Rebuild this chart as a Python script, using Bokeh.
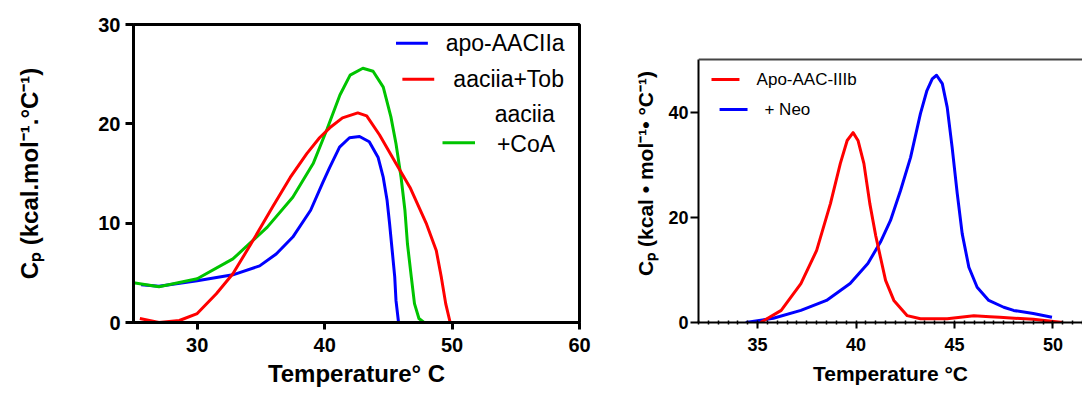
from bokeh.plotting import figure
from bokeh.models import Range1d, FixedTicker, Span, Label
from bokeh.layouts import row
from bokeh.embed import file_html
from bokeh.resources import INLINE

# ---------------- Left panel data (AAC-IIa) ----------------
apo_x = [25.6, 27.0, 30.0, 32.8, 34.9, 36.2, 37.5, 38.9, 39.86, 40.39, 41.17, 41.95, 42.74,
         43.5, 44.2, 44.6, 44.9, 45.1, 45.3, 45.5, 45.6, 45.8]
apo_y = [3.8, 3.65, 4.2, 4.8, 5.7, 6.9, 8.6, 11.3, 14.1, 15.6, 17.65, 18.6, 18.73,
         18.2, 16.6, 14.6, 12.3, 9.9, 7.25, 4.6, 2.2, 0.0]

tob_x = [25.5, 27.0, 28.6, 30.0, 31.5, 32.8, 34.4, 35.9, 37.3, 38.6, 39.6, 40.4, 41.4,
         42.6, 43.3, 44.3, 45.6, 46.7, 48.0, 48.76, 49.15, 49.5, 49.85]
tob_y = [0.4, 0.0, 0.2, 0.9, 2.9, 4.9, 8.3, 11.6, 14.6, 17.0, 18.6, 19.6, 20.6,
         21.1, 20.8, 18.9, 16.0, 13.6, 9.9, 7.25, 4.6, 1.9, 0.0]

coa_x = [25.0, 27.0, 30.0, 32.8, 35.5, 37.5, 39.1, 40.2, 41.2, 42.0, 43.0, 43.8, 44.6,
         45.2, 45.6, 46.0, 46.3, 46.5, 46.8, 47.05, 47.4, 47.8]
coa_y = [4.0, 3.6, 4.4, 6.4, 9.6, 12.6, 16.0, 19.5, 22.9, 24.9, 25.6, 25.3, 23.7,
         20.7, 18.0, 14.6, 11.3, 7.9, 4.6, 1.9, 0.4, 0.0]

left_xticks = [30, 40, 50, 60]
left_yticks = [0, 10, 20, 30]

# ---------------- Right panel data (AAC-IIIb) ----------------
apo3_x = [35.15, 36.2, 37.2, 38.0, 38.7, 39.2, 39.55, 39.85, 40.1, 40.4, 40.7, 41.0, 41.24,
          41.5, 41.92, 42.6, 43.27, 44.63, 45.98, 46.8, 47.3, 49.0, 50.5]
apo3_y = [0.0, 2.3, 7.4, 13.7, 22.6, 30.2, 34.6, 36.1, 34.6, 30.2, 22.6, 16.5, 12.4,
          8.0, 4.2, 1.3, 0.7, 0.7, 1.3, 1.1, 1.0, 0.6, 0.0]

neo_x = [34.4, 35.8, 37.2, 38.5, 39.7, 40.6, 41.24, 41.75, 42.26, 42.77, 43.27, 43.6, 43.87,
         44.09, 44.38, 44.63, 44.88, 45.14, 45.39, 45.73, 46.15, 46.74, 47.5, 48.0, 49.0, 49.95]
neo_y = [0.0, 0.8, 2.3, 4.2, 7.4, 11.2, 15.3, 19.4, 25.1, 31.4, 39.7, 44.1, 46.3,
         47.0, 45.4, 40.9, 33.3, 24.5, 16.9, 10.5, 6.7, 4.2, 2.9, 2.3, 1.7, 1.0]

right_xticks = [35, 40, 45, 50]
right_yticks = [0, 20, 40]
right_ytop = 50

FONT = "Liberation Sans"
BLUE = "#0000FF"
RED = "#FF0000"
GREEN = "#00C400"

# ================= Left figure =================
p1 = figure(width=600, height=394, output_backend="svg", toolbar_location=None,
            x_range=Range1d(25, 60), y_range=Range1d(0, 30),
            min_border_left=133, min_border_right=21, min_border_top=24, min_border_bottom=72)
p1.grid.visible = False
p1.outline_line_color = "black"
p1.outline_line_width = 3
p1.background_fill_color = "white"
p1.border_fill_color = "white"

p1.line(apo_x, apo_y, line_color=BLUE, line_width=3, line_join="round")
p1.line(coa_x, coa_y, line_color=GREEN, line_width=3, line_join="round")
p1.line(tob_x, tob_y, line_color=RED, line_width=3, line_join="round")

for ax in (p1.xaxis[0], p1.yaxis[0]):
    ax.axis_line_width = 3
    ax.axis_line_color = "black"
    ax.major_tick_line_width = 3
    ax.major_tick_line_color = "black"
    ax.major_tick_out = 8
    ax.major_tick_in = 0
    ax.minor_tick_line_color = None
    ax.major_label_text_font = FONT
    ax.major_label_text_font_style = "bold"
    ax.major_label_text_font_size = "20px"
    ax.major_label_text_color = "black"
    ax.axis_label_text_font = FONT
    ax.axis_label_text_font_style = "bold"
    ax.axis_label_text_font_size = "24px"
    ax.axis_label_text_color = "black"

p1.xaxis.ticker = FixedTicker(ticks=left_xticks)
p1.yaxis.ticker = FixedTicker(ticks=left_yticks)
p1.xaxis.major_tick_out = 7
p1.xaxis.major_label_standoff = 8
p1.yaxis.major_label_standoff = 5
p1.xaxis.axis_label = "Temperature° C"
p1.xaxis.axis_label_standoff = 5
p1.yaxis.axis_label = "Cₚ (kcal.mol⁻¹.°C⁻¹)"
p1.yaxis.axis_label_standoff = 52

# legend (left)
p1.line([45.6, 48.1], [28.1, 28.1], line_color=BLUE, line_width=3)
p1.line([46.1, 48.6], [24.5, 24.5], line_color=RED, line_width=3)
p1.line([49.25, 51.8], [18.1, 18.1], line_color=GREEN, line_width=3)
leg_kw = dict(text_font=FONT, text_font_size="23px", text_color="black", text_baseline="middle")
p1.add_layout(Label(x=49.5, y=28.1, text="apo-AACIIa", **leg_kw))
p1.add_layout(Label(x=50.1, y=24.5, text="aaciia+Tob", **leg_kw))
p1.add_layout(Label(x=55.7, y=21.0, text="aaciia", text_align="center", **leg_kw))
p1.add_layout(Label(x=55.8, y=18.0, text="+CoA", text_align="center", **leg_kw))

# ================= Right figure =================
# frame shares top/bottom with the left one; the visible box stops at y = 50
p2 = figure(width=482, height=394, output_backend="svg", toolbar_location=None,
            x_range=Range1d(32, 51.5), y_range=Range1d(0, 56.65),
            min_border_left=98, min_border_right=0, min_border_top=24, min_border_bottom=72)
p2.grid.visible = False
p2.outline_line_color = None
p2.background_fill_color = "white"
p2.border_fill_color = "white"
p2.add_layout(Span(location=right_ytop, dimension="width", line_color="#444444", line_width=2))

p2.line(neo_x, neo_y, line_color=BLUE, line_width=3, line_join="round")
p2.line(apo3_x, apo3_y, line_color=RED, line_width=3, line_join="round")

for ax in (p2.xaxis[0], p2.yaxis[0]):
    ax.axis_line_width = 2
    ax.axis_line_color = "black"
    ax.major_tick_line_width = 2
    ax.major_tick_line_color = "black"
    ax.major_tick_out = 6
    ax.major_tick_in = 0
    ax.major_label_text_font = FONT
    ax.major_label_text_font_style = "bold"
    ax.major_label_text_font_size = "18px"
    ax.major_label_text_color = "black"
    ax.axis_label_text_font = FONT
    ax.axis_label_text_font_style = "bold"
    ax.axis_label_text_font_size = "21px"
    ax.axis_label_text_color = "black"

minor = [32 + 0.5 * i for i in range(40)]
p2.xaxis.ticker = FixedTicker(ticks=right_xticks, minor_ticks=minor)
p2.xaxis.minor_tick_line_color = "black"
p2.xaxis.minor_tick_line_width = 1.5
p2.xaxis.minor_tick_in = 2
p2.xaxis.minor_tick_out = 2
p2.yaxis.ticker = FixedTicker(ticks=right_yticks)
p2.yaxis.bounds = (0, right_ytop)
p2.yaxis.minor_tick_line_color = None
p2.yaxis.major_tick_out = 8
p2.xaxis.major_label_standoff = 9
p2.yaxis.major_label_standoff = 2
p2.xaxis.axis_label = "Temperature °C"
p2.xaxis.axis_label_standoff = 8
p2.yaxis.axis_label = "Cₚ (kcal • mol⁻¹• °C⁻¹)"
p2.yaxis.axis_label_standoff = 8

# legend (right)
p2.line([32.66, 34.08], [46.2, 46.2], line_color=RED, line_width=3)
p2.line([33.07, 34.49], [40.5, 40.5], line_color=BLUE, line_width=3)
leg2 = dict(text_font=FONT, text_font_size="17px", text_color="black", text_baseline="middle")
p2.add_layout(Label(x=34.95, y=46.2, text="Apo-AAC-IIIb", **leg2))
p2.add_layout(Label(x=35.35, y=40.5, text="+ Neo", **leg2))

layout = row(p1, p2)
open("out.html", "w").write(file_html(layout, INLINE))
